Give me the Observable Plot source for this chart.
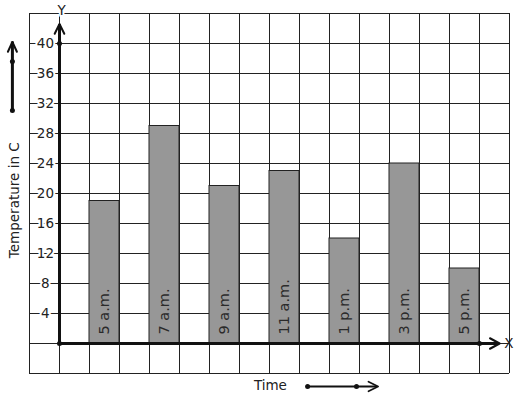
<!DOCTYPE html>
<html>
<head>
<meta charset="utf-8">
<script src="https://cdn.jsdelivr.net/npm/d3@7"></script>
<script src="https://cdn.jsdelivr.net/npm/@observablehq/plot@0.6"></script>
<style>
  html, body { margin: 0; padding: 0; background: #fff; }
</style>
</head>
<body>
<div id="chart"></div>
<script>
// Data
const times = ["5 a.m.", "7 a.m.", "9 a.m.", "11 a.m.", "1 p.m.", "3 p.m.", "5 p.m."];
const temps = [19, 29, 21, 23, 14, 24, 10];
const yTicks = [4, 8, 12, 16, 20, 24, 28, 32, 36, 40];
const yTitle = "Temperature in C";
const xTitle = "Time";

// Layout helpers (grid cells: x in cell units, y in °C units)
const gridX = d3.range(-1, 16);
const gridY = d3.range(-4, 45, 4);
const bars = times.map((t, i) => ({time: t, temp: temps[i], slot: 1 + 2 * i}));

const ink = "#111";
const chevY = [[-0.16, 41.3], [0, 42.6], [0.16, 41.3]].map(([x, y]) => ({x, y}));
const chevX = [[14.35, 0.7], [14.67, 0], [14.35, -0.7]].map(([x, y]) => ({x, y}));
const chevL = [[-1.72, 38.9], [-1.57, 40.2], [-1.42, 38.9]].map(([x, y]) => ({x, y}));
const chevB = [[10.3, -5.1], [10.62, -5.73], [10.3, -6.36]].map(([x, y]) => ({x, y}));

const chart = Plot.plot({
  width: 517,
  height: 399,
  marginLeft: 29,
  marginRight: 8,
  marginTop: 13,
  marginBottom: 26,
  x: {type: "linear", domain: [-1, 15], axis: null},
  y: {type: "linear", domain: [-4, 44], axis: null},
  style: {fontFamily: "DejaVu Sans", background: "#fff", overflow: "visible"},
  marks: [
    Plot.ruleX(gridX, {y1: -4, y2: 44, stroke: "#222", strokeWidth: 1}),
    Plot.ruleY(gridY, {x1: -1, x2: 15, stroke: "#222", strokeWidth: 1}),
    Plot.rectY(bars, {x1: "slot", x2: d => d.slot + 1, y: "temp", fill: "#979797", stroke: "#222", strokeWidth: 1}),
    Plot.text(bars, {x: d => d.slot + 0.5, y: 0, text: "time", rotate: -90, textAnchor: "start", dy: -9, fontSize: 14.5, fill: "#2a2a2a"}),
    // axes
    Plot.ruleX([0], {y1: 0, y2: 42.5, stroke: ink, strokeWidth: 3}),
    Plot.ruleY([0], {x1: 0, x2: 14.6, stroke: ink, strokeWidth: 3}),
    Plot.line(chevY, {x: "x", y: "y", stroke: ink, strokeWidth: 2}),
    Plot.line(chevX, {x: "x", y: "y", stroke: ink, strokeWidth: 2}),
    Plot.dot([{x: 0, y: 0}, {x: 0, y: 40}, {x: 14, y: 0}], {x: "x", y: "y", r: 2.5, fill: ink, stroke: null}),
    Plot.text(yTicks, {x: -0.47, y: d => d, text: d => String(d), fontSize: 13.5, fill: "#222", stroke: "#fff", strokeWidth: 4, paintOrder: "stroke"}),
    Plot.text(["Y"], {x: 0.07, y: 44.4, text: d => d, fontSize: 13.5, fill: "#222", stroke: "#fff", strokeWidth: 4}),
    Plot.text(["X"], {x: 14.98, y: 0, text: d => d, fontSize: 13.5, fill: "#222"}),
    // titles
    Plot.text([yTitle], {x: -1.5, y: 19.1, text: d => d, rotate: -90, fontSize: 13.5, fill: "#222"}),
    Plot.text([xTitle], {x: 7.03, y: -5.6, text: d => d, fontSize: 13.5, fill: "#222"}),
    // side arrows
    Plot.ruleX([-1.57], {y1: 31.07, y2: 40.2, stroke: ink, strokeWidth: 3}),
    Plot.line(chevL, {x: "x", y: "y", stroke: ink, strokeWidth: 2}),
    Plot.dot([{x: -1.57, y: 37.6}, {x: -1.57, y: 31.07}], {x: "x", y: "y", r: 2.5, fill: ink, stroke: null}),
    Plot.ruleY([-5.73], {x1: 8.27, x2: 10.6, stroke: ink, strokeWidth: 2}),
    Plot.line(chevB, {x: "x", y: "y", stroke: ink, strokeWidth: 1.8}),
    Plot.dot([{x: 8.27, y: -5.73}, {x: 9.9, y: -5.73}], {x: "x", y: "y", r: 2.5, fill: ink, stroke: null})
  ]
});
document.getElementById("chart").appendChild(chart);
</script>
</body>
</html>
